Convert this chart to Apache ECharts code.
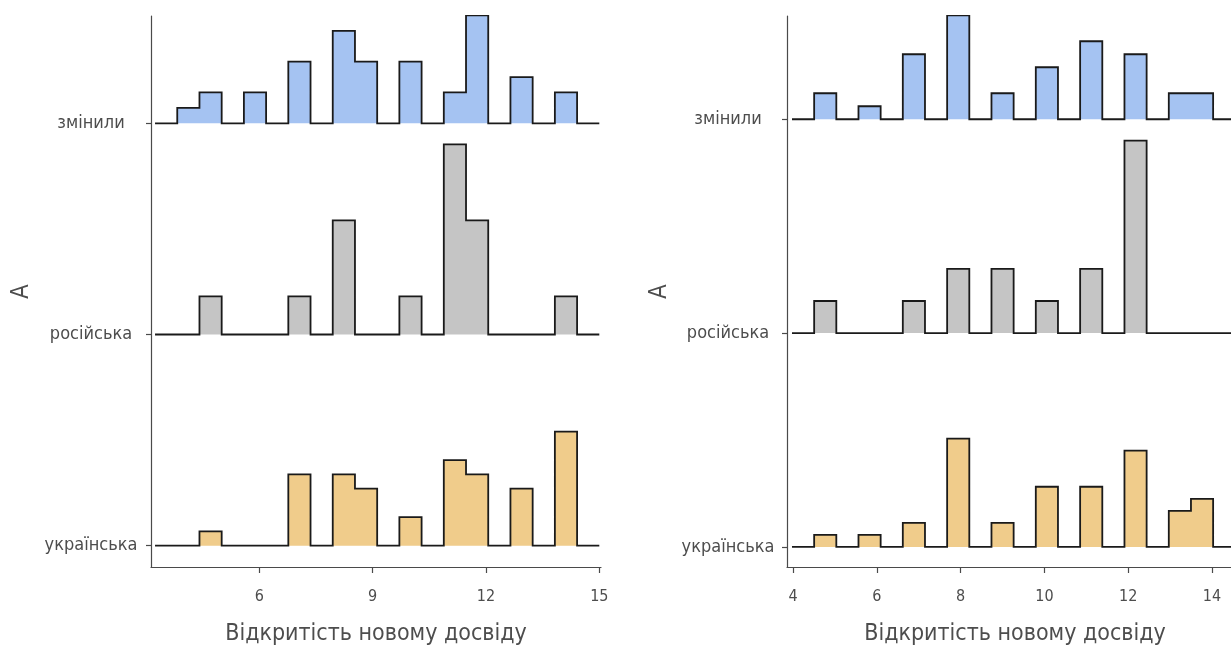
<!DOCTYPE html>
<html>
<head>
<meta charset="utf-8">
<script src="https://cdn.jsdelivr.net/npm/echarts@6/dist/echarts.min.js"></script>
<style>
html,body{margin:0;padding:0;background:#fff;}
#chart{width:1231px;height:662px;}
</style>
</head>
<body>
<div id="chart"></div>
<script>
// ---- data ----
const categories = ['українська', 'російська', 'змінили'];
const yAxisTitle = 'A';
const xAxisTitle = 'Відкритість новому досвіду';

// left panel histogram bins
const leftBinStart = 3.24;
const leftBinWidth = 0.588;
const leftUkr = [0,0,1,0,0,0,5,0,5,4,0,2,0,6,5,0,4,0,8,0];
const leftRus = [0,0,1,0,0,0,1,0,3,0,0,1,0,5,3,0,0,0,1,0];
const leftChg = [0,1,2,0,2,0,4,0,6,4,0,4,0,2,7,0,3,0,2,0];
const leftTicks = [6, 9, 12, 15];

// right panel histogram bins
const rightBinStart = 3.976;
const rightBinWidth = 0.529;
const rightUkr = [0,1,0,1,0,2,0,9,0,2,0,5,0,5,0,8,0,3,4,0];
const rightRus = [0,1,0,0,0,1,0,2,0,2,0,1,0,2,0,6,0,0,0,0];
const rightChg = [0,2,0,1,0,5,0,8,0,2,0,4,0,6,0,5,0,2,2,0];
const rightTicks = [4, 6, 8, 10, 12, 14];

const groupColors = ['#f0cc8b', '#c5c5c5', '#a5c3f2'];
const ridgeScale = 0.9;

// ---- build ----
const FONT = '"DejaVu Sans Condensed", "Liberation Sans Narrow", "Roboto", sans-serif';

function ridgePoints(counts, start, width, base, norm) {
  const total = counts.reduce((a, b) => a + b, 0);
  const pts = [[start, base]];
  counts.forEach((c, k) => {
    const h = (c / total) / norm * ridgeScale;
    pts.push([start + k * width, base + h]);
    pts.push([start + (k + 1) * width, base + h]);
  });
  pts.push([start + counts.length * width, base]);
  return pts;
}
function panelNorm(groups) {
  return Math.max(...groups.map(g => Math.max(...g) / g.reduce((a, b) => a + b, 0)));
}

const panels = [
  { groups: [leftUkr, leftRus, leftChg], start: leftBinStart, width: leftBinWidth },
  { groups: [rightUkr, rightRus, rightChg], start: rightBinStart, width: rightBinWidth }
];

const series = [];
panels.forEach((p, pi) => {
  const norm = panelNorm(p.groups);
  [2, 1, 0].forEach(gi => {
    const base = gi + 1;
    series.push({
      type: 'line',
      xAxisIndex: pi,
      yAxisIndex: pi,
      data: ridgePoints(p.groups[gi], p.start, p.width, base, norm),
      showSymbol: false,
      symbol: 'none',
      silent: true,
      animation: false,
      clip: true,
      lineStyle: { color: '#1a1a1a', width: 1.8, join: 'miter' },
      areaStyle: { color: groupColors[gi], opacity: 1, origin: base },
      z: 2 + (2 - gi)
    });
  });
});

const axisLineStyle = { color: '#4a4a4a', width: 1.2 };

function xAxisCfg(gridIndex, min, max, ticks) {
  return {
    type: 'value', gridIndex, min, max,
    axisLine: { show: true, onZero: false, lineStyle: axisLineStyle },
    axisTick: { show: true, length: 6, lineStyle: axisLineStyle, customValues: ticks },
    axisLabel: { customValues: ticks, color: '#4d4d4d', fontSize: 16, fontFamily: FONT, margin: 22 },
    splitLine: { show: false },
    name: xAxisTitle, nameLocation: 'middle', nameGap: 56,
    nameTextStyle: { color: '#4d4d4d', fontSize: 23, fontFamily: FONT }
  };
}
function yAxisCfg(gridIndex, min, max, margin, nameGap) {
  return {
    type: 'value', gridIndex, min, max,
    axisLine: { show: true, onZero: false, lineStyle: axisLineStyle },
    axisTick: { show: true, length: 5, lineStyle: axisLineStyle, customValues: [1, 2, 3] },
    axisLabel: {
      customValues: [1, 2, 3],
      formatter: v => categories[Math.round(v) - 1],
      color: '#4d4d4d', fontSize: 18, fontFamily: FONT, align: 'center', margin
    },
    splitLine: { show: false },
    name: yAxisTitle, nameLocation: 'middle', nameGap, nameRotate: 90,
    nameTextStyle: { color: '#4d4d4d', fontSize: 24, fontFamily: FONT }
  };
}

const chart = echarts.init(document.getElementById('chart'), null, { renderer: 'canvas' });
chart.setOption({
  backgroundColor: '#ffffff',
  animation: false,
  grid: [
    { left: 151, right: 630, top: 16, bottom: 95, containLabel: false, outerBoundsMode: 'none' },
    { left: 787, right: -12, top: 16, bottom: 95, containLabel: false, outerBoundsMode: 'none' }
  ],
  xAxis: [
    xAxisCfg(0, 3.133, 15.045, leftTicks),
    xAxisCfg(1, 3.857, 14.74, rightTicks)
  ],
  yAxis: [
    yAxisCfg(0, 0.899, 3.508, 60, 117),
    yAxisCfg(1, 0.906, 3.483, 59, 115)
  ],
  series
});
</script>
</body>
</html>
